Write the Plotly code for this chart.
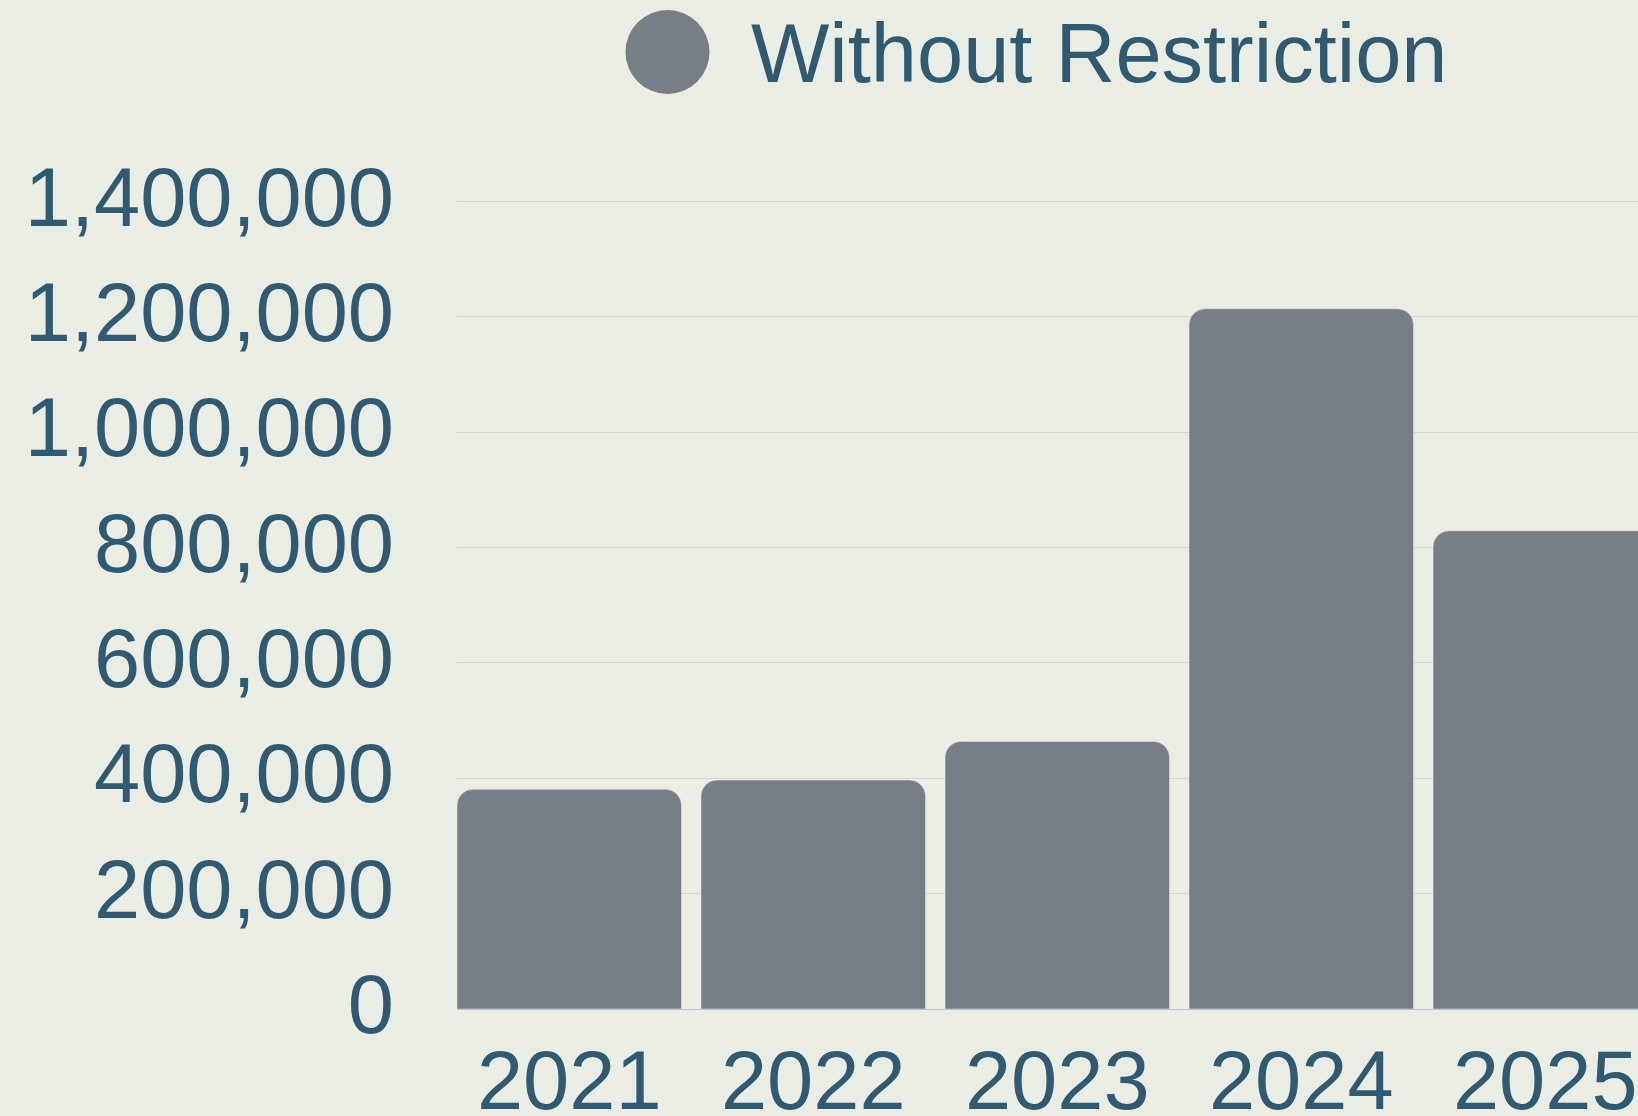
import plotly.graph_objects as go

years = ["2021", "2022", "2023", "2024", "2025"]
values = [381000, 397000, 464000, 1214000, 829000]
series_name = "Without Restriction"
tick_vals = [0, 200000, 400000, 600000, 800000, 1000000, 1200000, 1400000]

BG = "#e9ede3"
BAR = "#787e86"
TXT = "#2f5a72"
FONT = "Liberation Sans, Arial, sans-serif"
FS = 83

W, H = 1638, 1116
L, R, T, B = 457, 0, 160, 107

fig = go.Figure(go.Bar(x=years, y=values, name=series_name,
                       marker=dict(color=BAR), showlegend=False))

plot_h = H - T - B
fig.update_layout(
    width=W, height=H,
    margin=dict(l=L, r=R, t=T, b=B, autoexpand=False),
    paper_bgcolor=BG, plot_bgcolor=BG,
    bargap=0.08, barcornerradius=16,
    font=dict(family=FONT, color=TXT, size=FS),
    xaxis=dict(type="category", range=[-0.46, 4.38], showgrid=False,
               tickfont=dict(size=FS, color=TXT), ticklabelstandoff=16,
               showline=False, zeroline=False, automargin=False),
    yaxis=dict(range=[0, 1472000], tickvals=tick_vals, tickformat=",d",
               showgrid=True, gridcolor="#d2d6ce", gridwidth=1,
               zeroline=True, zerolinecolor="#b9c6c6", zerolinewidth=1,
               tickfont=dict(size=FS, color=TXT), ticklabelstandoff=62,
               ticklabelshift=-5, automargin=False),
)

# legend drawn manually to match the large circle swatch
cx = (667.5 - L) / (W - L - R)
cy = (H - B - 52) / plot_h
fig.add_shape(type="circle", xref="paper", yref="paper",
              xsizemode="pixel", ysizemode="pixel",
              xanchor=cx, yanchor=cy, x0=-42, x1=42, y0=-42, y1=42,
              fillcolor=BAR, line=dict(width=0))
fig.add_annotation(xref="paper", yref="paper",
                   x=(749 - L) / (W - L - R), y=(H - B - 53) / plot_h,
                   xanchor="left", yanchor="middle", showarrow=False,
                   text=series_name, font=dict(size=FS, color=TXT, family=FONT))

fig.write_html("out.html", config={"displayModeBar": False},
               post_script="document.body.style.margin='0';document.body.style.overflow='hidden';")
